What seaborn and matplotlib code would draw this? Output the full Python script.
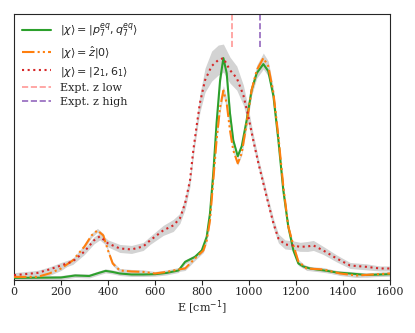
import matplotlib

matplotlib.use("Agg")
import matplotlib.pyplot as plt
import numpy as np
import pandas as pd
import seaborn as sns

# spectra (arbitrary intensity units)
energy_green = [0, 100, 200, 260, 320, 360, 390, 420, 450, 500, 550, 600, 650, 700, 728, 770, 799, 820,
                834, 848, 862, 877, 891, 905, 919, 933, 952, 969, 990, 1011, 1033, 1061, 1082, 1104,
                1125, 1146, 1167, 1189, 1210, 1231, 1260, 1288, 1330, 1373, 1430, 1500, 1560, 1600]
spec_green = [1.6, 1.8, 2.0, 4.0, 3.5, 6.5, 8.6, 7.5, 6.0, 5.0, 5.0, 5.3, 6.6, 9, 17.6, 22.6, 29, 42.6,
              66, 106, 156, 199, 221, 206, 166, 139, 123, 133, 159, 189, 206, 215, 208, 183,
              139, 89, 53, 29, 16, 13, 11, 10, 8.7, 7, 6, 4.5, 5, 5.3]
energy_orange = [0, 100, 150, 200, 250, 300, 330, 355, 380, 400, 420, 450, 500, 550, 600, 650, 700,
                 728, 770, 806, 820, 834, 848, 862, 877, 891, 905, 919, 933, 952, 969, 990, 1011,
                 1033, 1061, 1082, 1104, 1125, 1146, 1167, 1189, 1210, 1245, 1316, 1387, 1458, 1529, 1600]
spec_orange = [2.6, 2.6, 6, 11, 19, 33, 44, 49, 44, 29, 16, 9, 8, 7.6, 6, 7.6, 10,
               11, 21, 29, 39, 59, 99, 139, 172, 188.6, 176, 149, 129, 116, 126, 156, 189,
               209, 221, 213, 186, 143, 93, 53, 34, 18, 11, 10, 6, 4, 5, 6]
energy_red = [0, 100, 150, 200, 250, 300, 340, 365, 400, 450, 500, 550, 579, 635, 678, 706, 728,
              749, 763, 777, 791, 813, 841, 869, 891, 919, 948, 976, 997, 1018, 1040, 1061, 1082,
              1104, 1125, 1153, 1189, 1217, 1250, 1274, 1316, 1373, 1430, 1501, 1557, 1600]
spec_red = [4.3, 6.6, 10, 14, 18, 28, 39, 43, 36, 31, 30, 33, 39, 49, 54, 61, 76,
            99, 129, 153, 176, 199, 213, 219, 221, 209, 201, 184, 163, 139, 116, 96, 76,
            56, 41, 35, 34, 32.6, 33, 34, 29, 21, 14, 12.6, 11, 11]
# half-width of the shaded uncertainty band around the red curve
band_red = [2.5, 2.5, 2.5, 3, 3, 3, 3.5, 3.5, 3.5, 4, 4, 4, 4, 5, 6, 5, 6,
            6, 6, 7, 9, 12, 15, 15, 14, 13, 12, 10, 8, 6, 5, 5, 5,
            5, 4.5, 4.5, 4.5, 4.5, 5, 5, 4, 3.5, 3, 3, 2.5, 2.5]

expt_labels = ["Expt. z low", "Expt. z high"]
expt_energy = [929, 1048]

series = [
    ("$|\\chi\\rangle = |p_7^{eq}, q_7^{eq}\\rangle$", energy_green, spec_green, "#2ca02c", "-"),
    ("$|\\chi\\rangle = \\hat{z}|0\\rangle$", energy_orange, spec_orange, "#ff7f0e", (0, (6, 1.5, 1, 1.5, 1, 1.5))),
    ("$|\\chi\\rangle = |2_1, 6_1\\rangle$", energy_red, spec_red, "#d62728", (0, (1, 1.7))),
]

sns.set_style("ticks")
plt.rcParams["font.family"] = ["DejaVu Serif"]
plt.rcParams["mathtext.fontset"] = "dejavusans"
plt.rcParams["font.size"] = 8

fig, ax = plt.subplots(figsize=(4.15, 3.33), dpi=100)
fig.subplots_adjust(left=14 / 415, right=390 / 415, top=1 - 14 / 333, bottom=1 - 279.5 / 333)

# thin bands for green/orange, wider one for red
for name, xs, ys, color, style in series:
    xs = np.asarray(xs, float)
    ys = np.asarray(ys, float)
    if color == "#d62728":
        half = np.asarray(band_red)
    else:
        half = np.where(ys > 150, 5.0, 2.0)
    ax.fill_between(xs, ys - half, ys + half, color="#d3d3d3", lw=0, zorder=1)

for name, xs, ys, color, style in series:
    df = pd.DataFrame({"E": xs, "I": ys})
    sns.lineplot(data=df, x="E", y="I", ax=ax, color=color, linestyle=style, lw=1.5, label=name, zorder=3)

for lab, e, c in zip(expt_labels, expt_energy, ["#ff9896", "#9467bd"]):
    ax.axvline(e, ymin=0.875, ymax=1.0, color=c, ls="--", lw=1.2, label=lab)

ax.set_xlim(0, 1600)
ax.set_ylim(0, 265)
ax.set_xticks(np.arange(0, 1601, 200))
ax.set_yticks([])
ax.set_ylabel("")
ax.set_xlabel("E [cm$^{-1}$]", labelpad=1)
ax.tick_params(axis="x", length=3.5, pad=2)
ax.legend(loc="upper left", frameon=False, handlelength=2.6, labelspacing=0.38,
          borderaxespad=0.3, fontsize=8)

fig.savefig("out.png", dpi=100)
